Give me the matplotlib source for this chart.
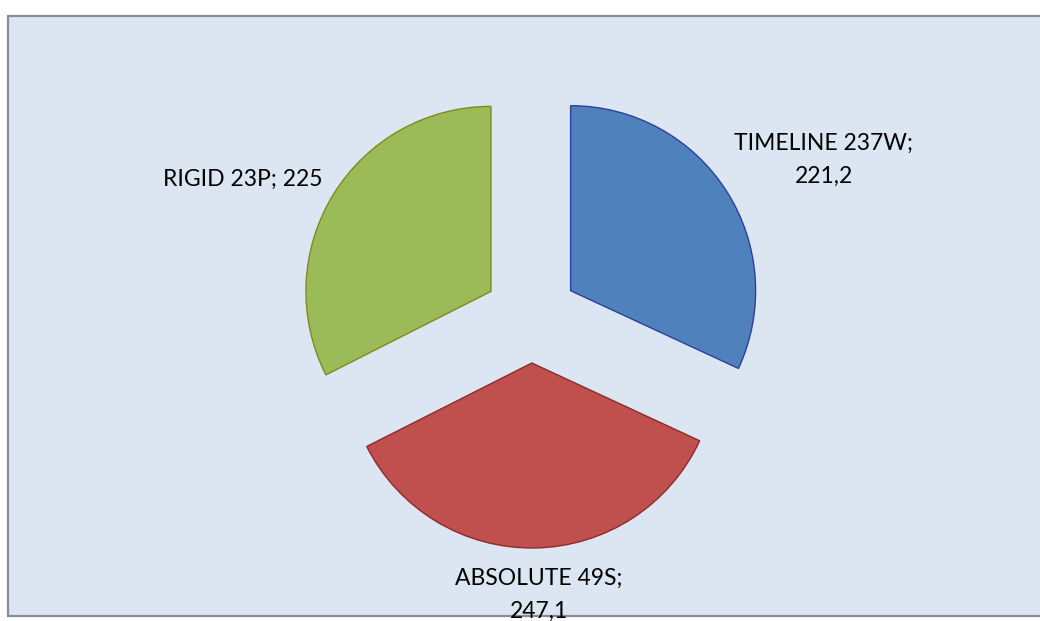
import matplotlib.pyplot as plt
from matplotlib.patches import Rectangle

# data
names = ['TIMELINE 237W', 'ABSOLUTE 49S', 'RIGID 23P']
values = [221.2, 247.1, 225]
labels = ['TIMELINE 237W;\n221,2', 'ABSOLUTE 49S;\n247,1', 'RIGID 23P; 225']

colors = ['#4F81BD', '#C0504D', '#9BBB59']
edges = ['#2E3F9C', '#8E2B2B', '#7F8A1E']

W, H = 1040, 621
fig = plt.figure(figsize=(W / 100, H / 100), dpi=100)
fig.patch.set_facecolor('white')
ax = fig.add_axes([0, 0, 1, 1])

# plot area (pixel coords, y flipped)
bg = Rectangle((8, H - 616), 1100, 600, facecolor='#DCE6F2',
               edgecolor='#8C8C8C', linewidth=1.6, zorder=0)
ax.add_patch(bg)

wedges, _ = ax.pie(values, colors=colors, startangle=90, counterclock=False,
                   radius=185, center=(531, H - 316), explode=[47] * 3,
                   wedgeprops=dict(linewidth=1.0), frame=True)
for w, ec in zip(wedges, edges):
    w.set_edgecolor(ec)
    w.set_zorder(2)

# label positions (pixel centres) as Excel placed them
label_pos = [(824, 160), (539, 595), (243, 179)]
for txt, (px, py) in zip(labels, label_pos):
    t = ax.text(px, H - py, txt, ha='center', va='center', fontsize=16.5,
                family='Lato', linespacing=1.7, zorder=3)
    t.set_clip_path(bg)

ax.set_xlim(0, W)
ax.set_ylim(0, H)
ax.set_aspect('auto')
ax.axis('off')

fig.savefig('out.png', dpi=100)
